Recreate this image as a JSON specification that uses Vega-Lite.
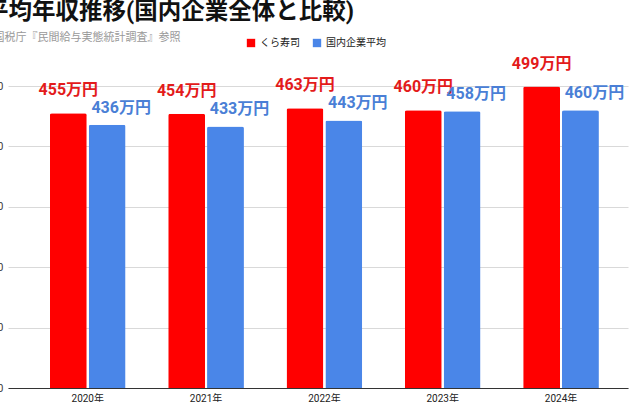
{
  "$schema": "https://vega.github.io/schema/vega-lite/v6.json",
  "width": 620,
  "height": 302,
  "autosize": "none",
  "padding": {"left": 8, "top": 86, "right": 2, "bottom": 14},
  "background": "white",
  "config": {
    "font": "Roboto, Noto Sans CJK JP",
    "view": {"stroke": null}
  },
  "title": {
    "text": "平均年収推移(国内企業全体と比較)",
    "anchor": "start",
    "frame": "group",
    "dx": -23,
    "fontSize": 23.5,
    "fontWeight": "bold",
    "color": "#111111",
    "font": "Roboto, Noto Sans CJK JP",
    "offset": 8
  },
  "data": {
    "values": [
      {"year": "2020年", "series": "くら寿司", "value": 455},
      {"year": "2020年", "series": "国内企業平均", "value": 436},
      {"year": "2021年", "series": "くら寿司", "value": 454},
      {"year": "2021年", "series": "国内企業平均", "value": 433},
      {"year": "2022年", "series": "くら寿司", "value": 463},
      {"year": "2022年", "series": "国内企業平均", "value": 443},
      {"year": "2023年", "series": "くら寿司", "value": 460},
      {"year": "2023年", "series": "国内企業平均", "value": 458},
      {"year": "2024年", "series": "くら寿司", "value": 499},
      {"year": "2024年", "series": "国内企業平均", "value": 460}
    ]
  },
  "encoding": {
    "x": {
      "field": "year",
      "type": "nominal",
      "scale": {"paddingInner": 0.36, "paddingOuter": 0.3, "align": 0.59},
      "axis": {
        "title": null,
        "labelAngle": 0,
        "ticks": false,
        "domainColor": "#333333",
        "labelFontSize": 10,
        "labelColor": "#222222",
        "labelPadding": 5
      }
    },
    "xOffset": {
      "field": "series",
      "type": "nominal",
      "sort": ["くら寿司", "国内企業平均"],
      "scale": {"paddingInner": 0.05}
    },
    "y": {
      "field": "value",
      "type": "quantitative",
      "scale": {"domain": [0, 500], "nice": false},
      "axis": {
        "values": [0, 100, 200, 300, 400, 500],
        "domain": false,
        "ticks": false,
        "gridColor": "#d9d9d9",
        "labelFontSize": 11,
        "labelColor": "#444444",
        "labelPadding": 5,
        "title": "国税庁『民間給与実態統計調査』参照",
        "titleAngle": 0,
        "titleAlign": "left",
        "titleBaseline": "middle",
        "titleX": -15,
        "titleY": -49,
        "titleFontSize": 11,
        "titleFontWeight": "normal",
        "titleColor": "#999999"
      }
    }
  },
  "layer": [
    {
      "mark": {"type": "bar", "cornerRadiusTopLeft": 2, "cornerRadiusTopRight": 2},
      "encoding": {
        "color": {
          "field": "series",
          "type": "nominal",
          "scale": {"domain": ["くら寿司", "国内企業平均"], "range": ["#ff0000", "#4a86e8"]},
          "legend": {
            "orient": "none",
            "legendX": 238,
            "legendY": -48,
            "direction": "horizontal",
            "title": null,
            "symbolType": "square",
            "symbolSize": 70,
            "symbolStrokeWidth": 0,
            "labelFontSize": 10,
            "labelColor": "#222222",
            "columnPadding": 12
          }
        }
      }
    },
    {
      "transform": [
        {"filter": "datum.series == 'くら寿司'"},
        {"calculate": "datum.value + '万円'", "as": "label"}
      ],
      "mark": {
        "type": "text",
        "dy": -23,
        "baseline": "middle",
        "fontSize": 16,
        "fontWeight": "bold",
        "color": "#e31b1b"
      },
      "encoding": {"text": {"field": "label"}}
    },
    {
      "transform": [
        {"filter": "datum.series == '国内企業平均'"},
        {"calculate": "datum.value + '万円'", "as": "label"}
      ],
      "mark": {
        "type": "text",
        "dx": 14,
        "dy": -17,
        "baseline": "middle",
        "fontSize": 16,
        "fontWeight": "bold",
        "color": "#4a7fd6"
      },
      "encoding": {"text": {"field": "label"}}
    }
  ]
}
